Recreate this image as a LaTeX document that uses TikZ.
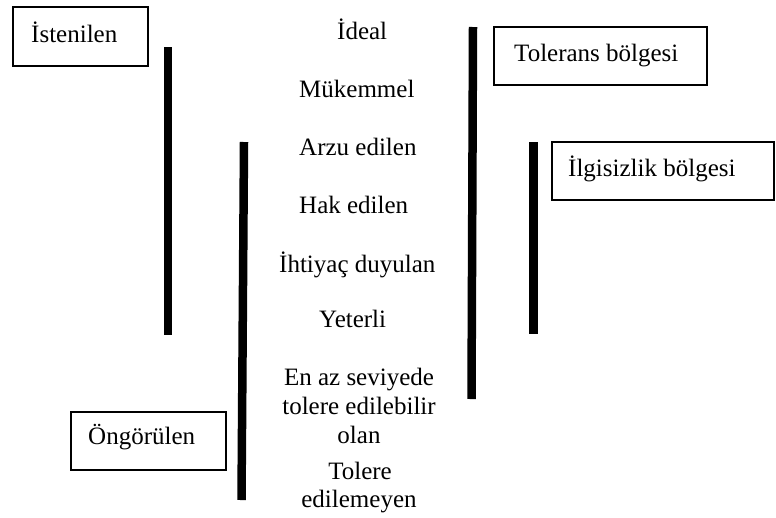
\documentclass[tikz,border=0pt]{standalone}
\usepackage{fontspec}
\setmainfont{Liberation Serif}
\begin{document}
\begin{tikzpicture}[x=1pt,y=-1pt,
  lbl/.style={inner sep=0pt,font=\fontsize{25}{29}\selectfont},
  box/.style={draw,line width=1.5pt,inner sep=0pt,minimum width=#1},
  bar/.style={line width=8.5pt,line cap=butt}]
\useasboundingbox (0,0) rectangle (776,517);

% framed labels
\node[box=135pt,minimum height=59pt] (bIst) at (80.5,36.5) {};
\node[lbl,anchor=base west] (tIst) at (31,42) {İstenilen};
\node[box=213pt,minimum height=58pt] (bTol) at (600.5,56) {};
\node[lbl,anchor=base west] (tTol) at (514,61) {Tolerans bölgesi};
\node[box=222pt,minimum height=58pt] (bIlg) at (663,171) {};
\node[lbl,anchor=base west] (tIlg) at (568,176) {İlgisizlik bölgesi};
\node[box=155pt,minimum height=58pt] (bOng) at (148.5,441) {};
\node[lbl,anchor=base west] (tOng) at (88,444) {Öngörülen};

% levels of expectation
\node[lbl,anchor=base west] (l1) at (337,39) {İdeal};
\node[lbl,anchor=base west] (l2) at (299,97) {Mükemmel};
\node[lbl,anchor=base west] (l3) at (299,155) {Arzu edilen};
\node[lbl,anchor=base west] (l4) at (299,213) {Hak edilen};
\node[lbl,anchor=base west] (l5) at (279,272) {İhtiyaç duyulan};
\node[lbl,anchor=base west] (l6) at (319,327) {Yeterli};
\node[lbl,anchor=base] (l7a) at (359,385) {En az seviyede};
\node[lbl,anchor=base] (l7b) at (359,414) {tolere edilebilir};
\node[lbl,anchor=base] (l7c) at (359,443) {olan};
\node[lbl,anchor=base] (l8a) at (360,479) {Tolere};
\node[lbl,anchor=base] (l8b) at (359,507) {edilemeyen};

% range bars
\draw[bar] (168,47) -- (168,335);
\draw[bar] (244,142) -- (241.5,500);
\draw[bar] (473,27) -- (471.5,399);
\draw[bar] (533.5,142) -- (533.5,334);
\end{tikzpicture}
\end{document}
